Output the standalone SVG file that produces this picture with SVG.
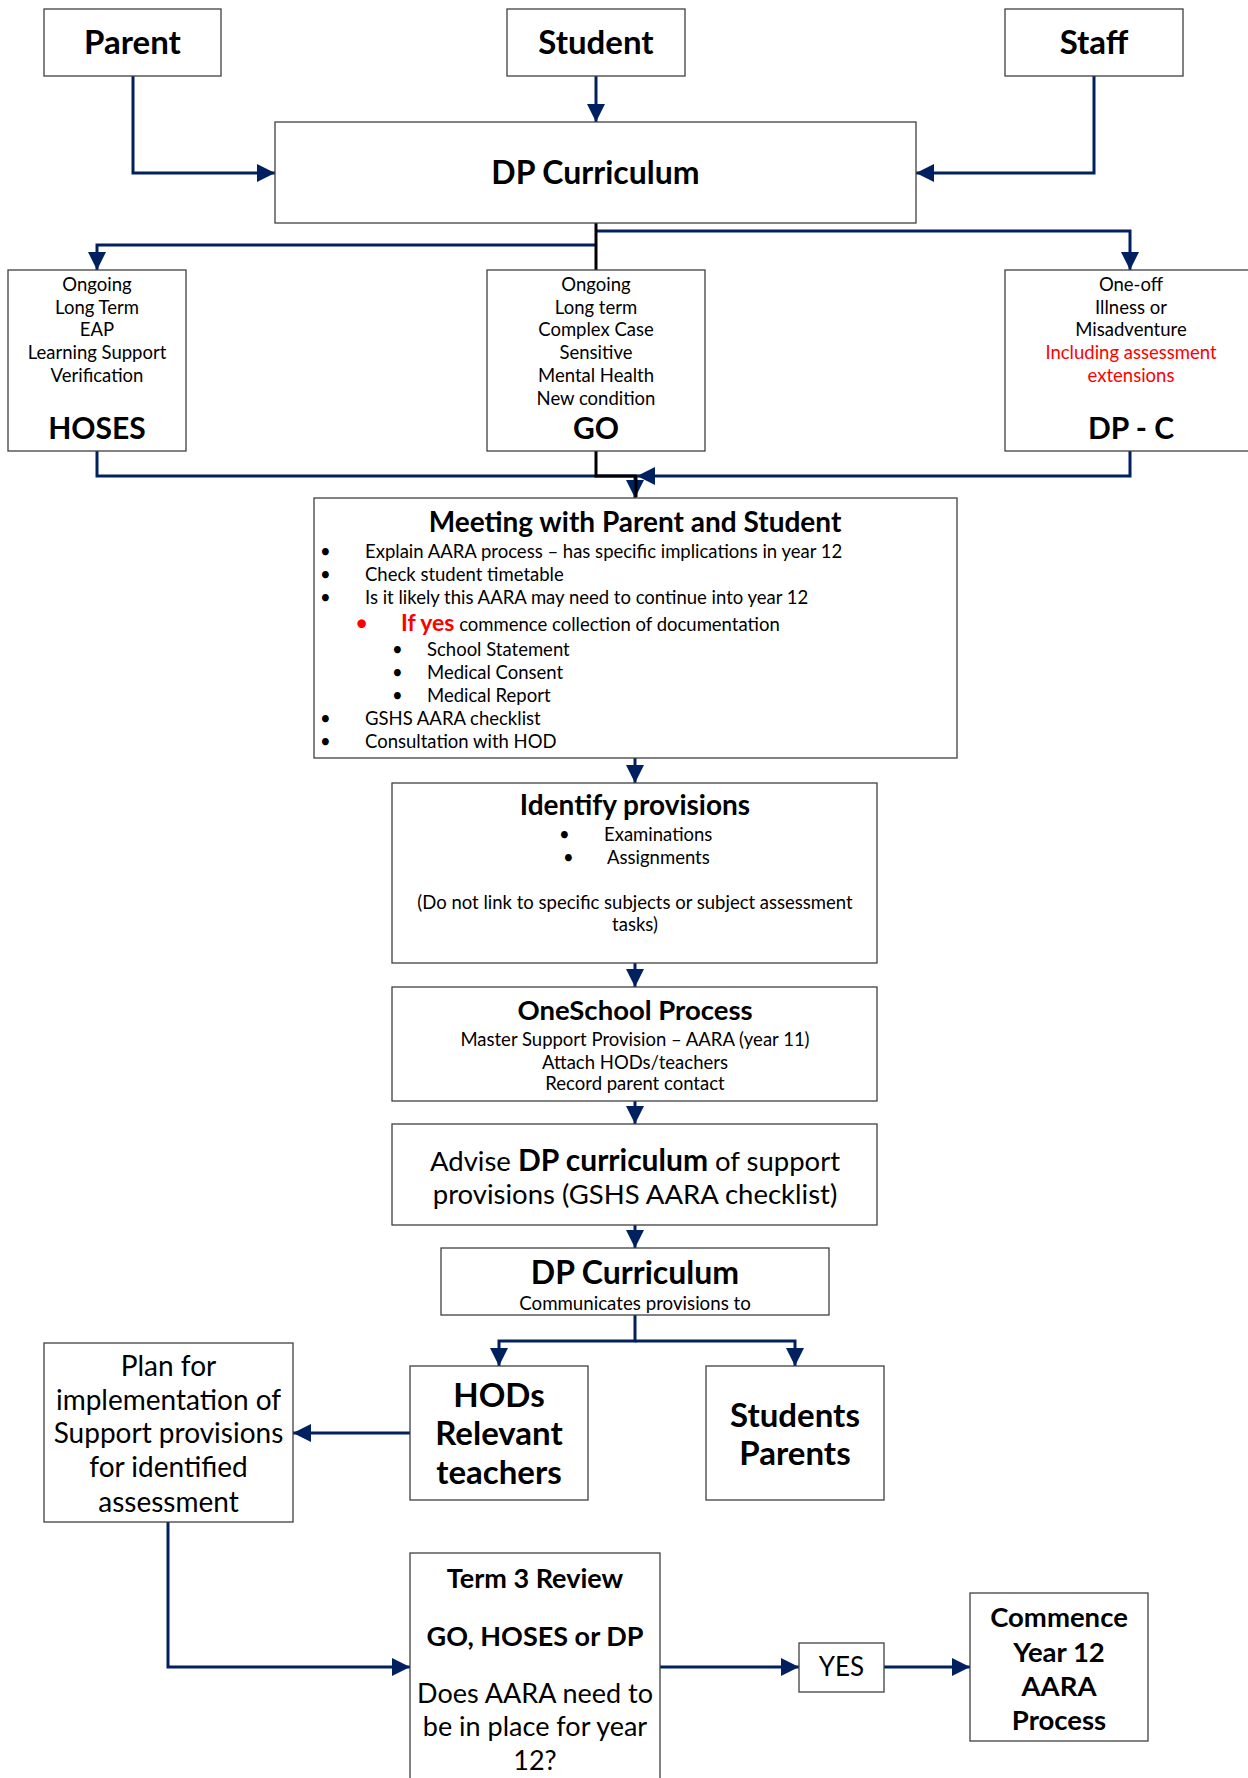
<svg xmlns="http://www.w3.org/2000/svg" width="1248" height="1778" viewBox="0 0 1248 1778">
<style>
.box{fill:#fff;stroke:#404040;stroke-width:1.3}
.c{fill:none;stroke:#002060;stroke-width:3}
.k{fill:none;stroke:#000;stroke-width:3}
text{font-family:Lato,"Liberation Sans",sans-serif;fill:#000}
.m{text-anchor:middle}
.b{font-weight:bold}
.s{font-size:18.5px}
.red{fill:#ff0000}
</style>
<defs>
<marker id="ah" markerUnits="userSpaceOnUse" markerWidth="18" markerHeight="18" refX="18" refY="9" orient="auto"><path d="M0,0 L18,9 L0,18 z" fill="#002060"/></marker>
</defs>
<rect width="1248" height="1778" fill="#fff"/>

<g id="connectors">
<path class="c" d="M133,76 V173 H275" marker-end="url(#ah)"/>
<path class="c" d="M596,76 V122" marker-end="url(#ah)"/>
<path class="c" d="M1094,76 V173 H916" marker-end="url(#ah)"/>
<path class="c" d="M596,245 H97 V270" marker-end="url(#ah)"/>
<path class="c" d="M596,231 H1130 V270" marker-end="url(#ah)"/>
<path class="k" d="M596,223 V270"/>
<path class="c" d="M97,451 V476 H635 V498" marker-end="url(#ah)"/>
<path class="k" d="M596,451 V476 H636 V497"/>
<path class="c" d="M1130,451 V476 H637" marker-end="url(#ah)"/>
<path class="c" d="M635,758 V783" marker-end="url(#ah)"/>
<path class="c" d="M635,963 V987" marker-end="url(#ah)"/>
<path class="c" d="M635,1101 V1124" marker-end="url(#ah)"/>
<path class="c" d="M635,1225 V1248" marker-end="url(#ah)"/>
<path class="c" d="M635,1315 V1341 H499 V1366" marker-end="url(#ah)"/>
<path class="c" d="M635,1341 H795 V1366" marker-end="url(#ah)"/>
<path class="c" d="M410,1433 H293" marker-end="url(#ah)"/>
<path class="c" d="M168,1522 V1667 H410" marker-end="url(#ah)"/>
<path class="c" d="M660,1667 H799" marker-end="url(#ah)"/>
<path class="c" d="M884,1667 H970" marker-end="url(#ah)"/>
</g>

<g id="parent"><rect class="box" x="44" y="9" width="177" height="67"/><text class="m b" x="132.5" y="54" font-size="33">Parent</text></g>
<g id="student"><rect class="box" x="507" y="9" width="178" height="67"/><text class="m b" x="596" y="54" font-size="33">Student</text></g>
<g id="staff"><rect class="box" x="1005" y="9" width="178" height="67"/><text class="m b" x="1094" y="54" font-size="33">Staff</text></g>
<g id="dp-curriculum"><rect class="box" x="275" y="122" width="641" height="101"/><text class="m b" x="595.5" y="184" font-size="32">DP Curriculum</text></g>

<g id="hoses"><rect class="box" x="8" y="270" width="178" height="181"/>
<text class="m s" x="97" y="290.5">Ongoing</text>
<text class="m s" x="97" y="313.5">Long Term</text>
<text class="m s" x="97" y="335.5">EAP</text>
<text class="m s" x="97" y="358.5">Learning Support</text>
<text class="m s" x="97" y="381.5">Verification</text>
<text class="m b" x="97" y="439" font-size="30">HOSES</text></g>

<g id="go"><rect class="box" x="487" y="270" width="218" height="181"/>
<text class="m s" x="596" y="290.5">Ongoing</text>
<text class="m s" x="596" y="313.5">Long term</text>
<text class="m s" x="596" y="335.5">Complex Case</text>
<text class="m s" x="596" y="358.5">Sensitive</text>
<text class="m s" x="596" y="381.5">Mental Health</text>
<text class="m s" x="596" y="404.5">New condition</text>
<text class="m b" x="596" y="439" font-size="30">GO</text></g>

<g id="dp-c"><rect class="box" x="1005" y="270" width="260" height="181"/>
<text class="m s" x="1131" y="290.5">One-off</text>
<text class="m s" x="1131" y="313.5">Illness or</text>
<text class="m s" x="1131" y="335.5">Misadventure</text>
<text class="m s red" x="1131" y="358.5">Including assessment</text>
<text class="m s red" x="1131" y="381.5">extensions</text>
<text class="m b" x="1131" y="439" font-size="30">DP - C</text></g>

<g id="meeting"><rect class="box" x="314" y="498" width="643" height="260"/>
<text class="m b" x="635" y="532" font-size="28">Meeting with Parent and Student</text>
<g class="s">
<text x="320" y="557.5">•</text><text x="365" y="557.5">Explain AARA process – has specific implications in year 12</text>
<text x="320" y="580.5">•</text><text x="365" y="580.5">Check student timetable</text>
<text x="320" y="603.5">•</text><text x="365" y="603.5">Is it likely this AARA may need to continue into year 12</text>
<text x="355" y="631" class="red" font-size="23">•</text><text x="401" y="631"><tspan class="red b" font-size="23">If yes</tspan> commence collection of documentation</text>
<text x="392" y="655.5">•</text><text x="427" y="655.5">School Statement</text>
<text x="392" y="678.5">•</text><text x="427" y="678.5">Medical Consent</text>
<text x="392" y="701.5">•</text><text x="427" y="701.5">Medical Report</text>
<text x="320" y="724.5">•</text><text x="365" y="724.5">GSHS AARA checklist</text>
<text x="320" y="747.5">•</text><text x="365" y="747.5">Consultation with HOD</text>
</g></g>

<g id="identify"><rect class="box" x="392" y="783" width="485" height="180"/>
<text class="m b" x="635" y="815" font-size="28">Identify provisions</text>
<text class="s" x="559" y="840.5">•</text><text class="s" x="604" y="840.5">Examinations</text>
<text class="s" x="563" y="863.5">•</text><text class="s" x="607" y="863.5">Assignments</text>
<text class="m s" x="635" y="908.5">(Do not link to specific subjects or subject assessment</text>
<text class="m s" x="635" y="930.5">tasks)</text></g>

<g id="oneschool"><rect class="box" x="392" y="987" width="485" height="114"/>
<text class="m b" x="635" y="1020" font-size="27.5">OneSchool Process</text>
<text class="m s" x="635" y="1045.5">Master Support Provision – AARA (year 11)</text>
<text class="m s" x="635" y="1068.5">Attach HODs/teachers</text>
<text class="m s" x="635" y="1089.5">Record parent contact</text></g>

<g id="advise"><rect class="box" x="392" y="1124" width="485" height="101"/>
<text class="m" x="635" y="1171" font-size="27.5">Advise <tspan class="b" font-size="30">DP curriculum</tspan> of support</text>
<text class="m" x="635" y="1204" font-size="27.5">provisions (GSHS AARA checklist)</text></g>

<g id="dp-curriculum-2"><rect class="box" x="441" y="1248" width="388" height="67"/>
<text class="m b" x="635" y="1283.5" font-size="32">DP Curriculum</text>
<text class="m" x="635" y="1310" font-size="18.7">Communicates provisions to</text></g>

<g id="plan"><rect class="box" x="44" y="1343" width="249" height="179"/>
<text class="m" x="168.5" y="1376" font-size="28">Plan for</text>
<text class="m" x="168.5" y="1410" font-size="28">implementation of</text>
<text class="m" x="168.5" y="1443" font-size="28">Support provisions</text>
<text class="m" x="168.5" y="1477" font-size="28">for identified</text>
<text class="m" x="168.5" y="1512" font-size="28">assessment</text></g>

<g id="hods"><rect class="box" x="410" y="1366" width="178" height="134"/>
<text class="m b" x="499" y="1407" font-size="33">HODs</text>
<text class="m b" x="499" y="1445" font-size="33">Relevant</text>
<text class="m b" x="499" y="1484" font-size="33">teachers</text></g>

<g id="students"><rect class="box" x="706" y="1366" width="178" height="134"/>
<text class="m b" x="795" y="1427" font-size="33">Students</text>
<text class="m b" x="795" y="1465" font-size="33">Parents</text></g>

<g id="term3"><rect class="box" x="410" y="1553" width="250" height="240"/>
<text class="m b" x="535" y="1588" font-size="27">Term 3 Review</text>
<text class="m b" x="535" y="1646" font-size="27">GO, HOSES or DP</text>
<text class="m" x="535" y="1703" font-size="27">Does AARA need to</text>
<text class="m" x="535" y="1736" font-size="27">be in place for year</text>
<text class="m" x="535" y="1770" font-size="27">12?</text></g>

<g id="yes"><rect class="box" x="799" y="1643" width="85" height="49"/>
<text class="m" x="841.5" y="1676" font-size="26">YES</text></g>

<g id="commence"><rect class="box" x="970" y="1593" width="178" height="148"/>
<text class="m b" x="1059" y="1627" font-size="27.5">Commence</text>
<text class="m b" x="1059" y="1662" font-size="27.5">Year 12</text>
<text class="m b" x="1059" y="1696" font-size="27.5">AARA</text>
<text class="m b" x="1059" y="1730" font-size="27.5">Process</text></g>
</svg>
